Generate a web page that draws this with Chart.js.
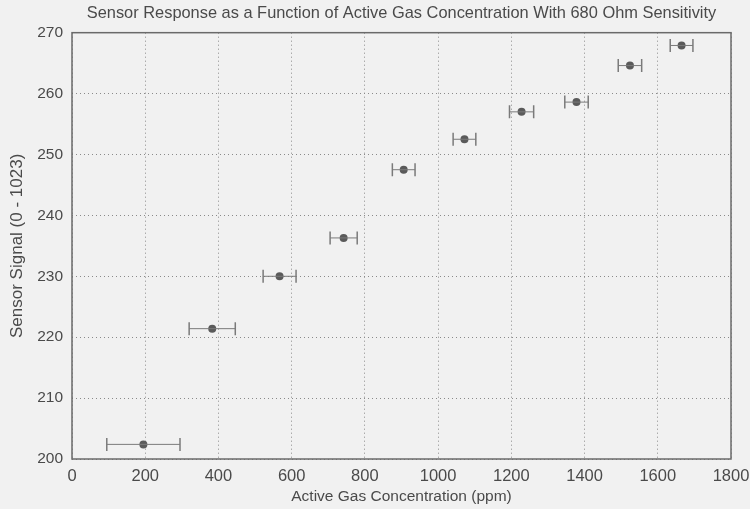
<!DOCTYPE html>
<html>
<head>
<meta charset="utf-8">
<script src="https://cdn.jsdelivr.net/npm/chart.js@4/dist/chart.umd.min.js"></script>
<style>
  html, body { margin: 0; padding: 0; background: #f1f1f1; }
  #wrap { width: 750px; height: 509px; position: relative; }
</style>
</head>
<body>
<div id="wrap"><canvas id="c" width="750" height="509"></canvas></div>
<script>
// Data
const concentration = [195, 383, 567, 742, 906, 1072, 1228, 1378, 1524, 1665];
const signal        = [202.4, 221.4, 230.0, 236.3, 247.5, 252.5, 257.0, 258.6, 264.6, 267.9];
const concError     = [100, 63, 45, 37, 31, 31, 33, 32, 32, 31];
const xTicks = [0, 200, 400, 600, 800, 1000, 1200, 1400, 1600, 1800];
const yTicks = [200, 210, 220, 230, 240, 250, 260, 270];

const textColor = '#4a4a4a';
const barColor = '#7a7a7a';
const markColor = '#5a5a5a';

const datasets = [];
concentration.forEach((x, i) => {
  datasets.push({
    label: 'err' + i,
    data: [{x: x - concError[i], y: signal[i]}, {x: x + concError[i], y: signal[i]}],
    showLine: true,
    borderColor: barColor,
    borderWidth: 1,
    pointStyle: 'line',
    rotation: 90,
    pointRadius: 6.5,
    pointBorderWidth: 1.5,
    pointBorderColor: barColor,
    pointHoverRadius: 6.5
  });
});
datasets.push({
  label: 'data',
  data: concentration.map((x, i) => ({x: x, y: signal[i]})),
  showLine: false,
  pointStyle: 'circle',
  pointRadius: 4,
  pointBackgroundColor: markColor,
  pointBorderColor: markColor,
  pointBorderWidth: 0
});

const boxPlugin = {
  id: 'box',
  afterDraw(chart) {
    const a = chart.chartArea, ctx = chart.ctx;
    ctx.save();
    ctx.strokeStyle = '#6a6a6a';
    ctx.lineWidth = 1.5;
    ctx.strokeRect(a.left, a.top, a.right - a.left, a.bottom - a.top);
    ctx.restore();
  }
};

new Chart(document.getElementById('c'), {
  type: 'scatter',
  data: { datasets },
  plugins: [boxPlugin],
  options: {
    responsive: false,
    animation: false,
    devicePixelRatio: 1,
    layout: { autoPadding: false, padding: { left: 0, right: 19, top: 0, bottom: 0 } },
    plugins: {
      legend: { display: false },
      tooltip: { enabled: false },
      title: {
        display: true,
        fullSize: false,
        text: 'Sensor Response as a Function of Active Gas Concentration With 680 Ohm Sensitivity',
        color: textColor,
        font: { family: 'Liberation Sans', size: 16.4, weight: 'normal' },
        padding: { top: 4, bottom: 9 }
      }
    },
    scales: {
      x: {
        type: 'linear',
        min: 0, max: 1800,
        afterBuildTicks: s => { s.ticks = xTicks.map(v => ({value: v})); },
        afterFit: s => { s.height = 50; s.paddingLeft = 0; s.paddingRight = 0; },
        ticks: { color: textColor, font: { family: 'Liberation Sans', size: 16.5 }, padding: 8, maxRotation: 0,
                 callback: v => String(v) },
        grid: { color: '#8a8a8a', lineWidth: 1, drawTicks: false },
        border: { display: false, dash: [1, 3] },
        title: {
          display: true, text: 'Active Gas Concentration (ppm)', color: textColor,
          font: { family: 'Liberation Sans', size: 15.5 }, padding: { top: 0, bottom: 3 }
        }
      },
      y: {
        type: 'linear',
        min: 200, max: 270,
        afterBuildTicks: s => { s.ticks = yTicks.map(v => ({value: v})); },
        afterFit: s => { s.width = 72; s.paddingTop = 0; s.paddingBottom = 0; },
        ticks: { color: textColor, font: { family: 'Liberation Sans', size: 15.5 }, padding: 9,
                 callback: v => String(v) },
        grid: { color: '#8a8a8a', lineWidth: 1, drawTicks: false },
        border: { display: false, dash: [1, 3] },
        title: {
          display: true, text: 'Sensor Signal (0 - 1023)', color: textColor,
          font: { family: 'Liberation Sans', size: 17 }, padding: { top: 7, bottom: 0 }
        }
      }
    }
  }
});
</script>
</body>
</html>
